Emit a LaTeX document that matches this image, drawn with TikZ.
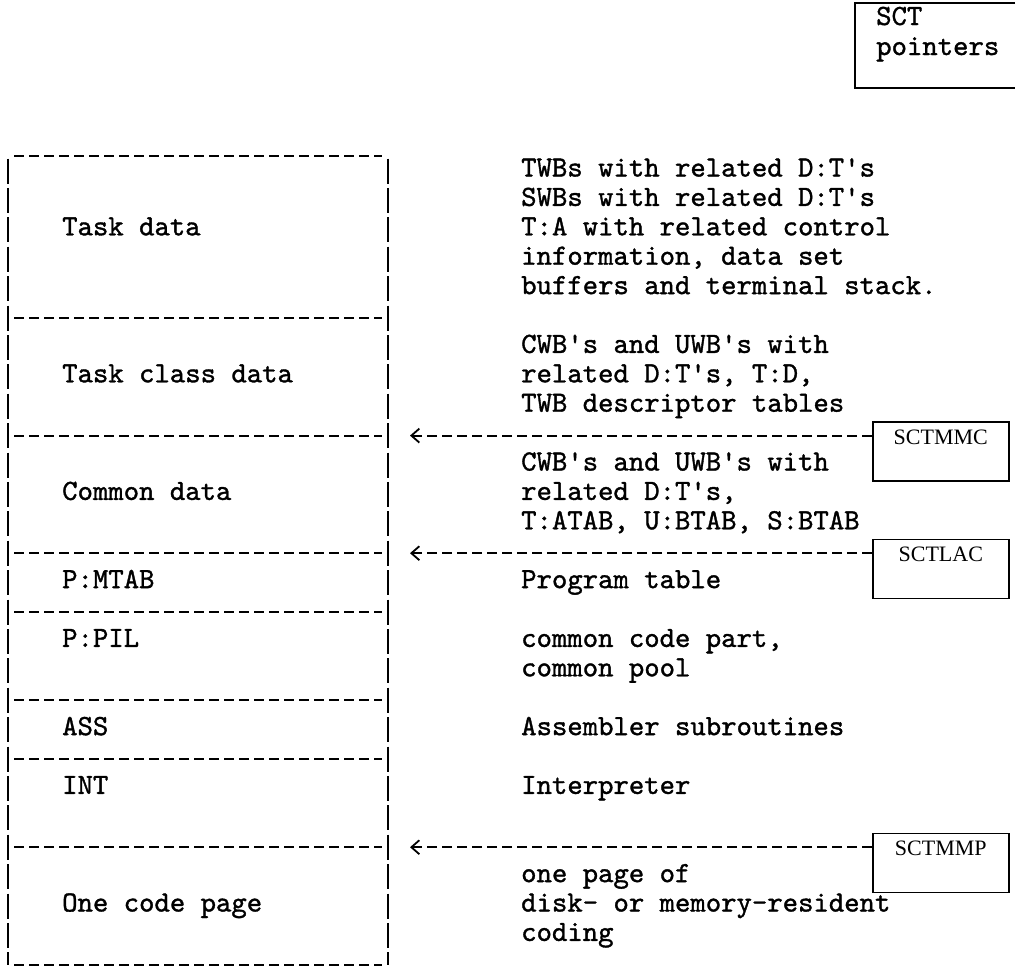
\documentclass[tikz,border=0pt]{standalone}
\usepackage{fontspec}
\newfontfamily\typefont{lmmono10-regular.otf}[FakeBold=1.2]
\newfontfamily\ptrfont{Liberation Serif}
\usetikzlibrary{arrows.meta}
\newcommand{\rowy}[1]{141.6+29.4*#1}

\begin{document}
\begin{tikzpicture}[
x=1pt, y=-1pt,
every node/.style={
    inner sep=0pt,
    font=\typefont\fontsize{29.3}{29.4}\selectfont,
    },
partname/.style={anchor=base west},
note/.style={anchor=base west},
typed/.style={line width=1.8pt, dash pattern=on 10pt off 5pt},
bar/.style={line width=2pt, dash pattern=on 25pt off 4.4pt},
ptrbox/.style={
    draw,
    line width=1.6pt,
    anchor=north west,
    minimum width=136pt,
    text height=22pt,
    text depth=36.8pt,
    font=\ptrfont\fontsize{22}{24}\selectfont,
    },
ptrarrow/.style={
    draw,
    typed,
    -{Straight Barb[length=8pt,width=14pt]},
    },
]
\useasboundingbox (0,0) rectangle (1019,969);

\draw[line width=2pt] (1015,3) -- (855,3) -- (855,88) -- (1015,88);
\node[note] (sct) at (876,25) {SCT};
\node[note] (ptrs) at (876,55) {pointers};

\draw[bar] (8,158.5) -- (8,965);
\draw[bar] (388,158.5) -- (388,965);
\draw[typed] (14,156) -- (382,156);
\draw[typed] (14,965) -- (382,965);
\foreach \r in {6,10,14,16,19,21,24}
    \draw[typed] (14,{\rowy{\r}}) -- (382,{\rowy{\r}});

\node[partname] (task)   at (62,{\rowy{3}+5.5})  {Task data};
\node[partname] (class)  at (62,{\rowy{8}+5.5})  {Task class data};
\node[partname] (common) at (62,{\rowy{12}+5.5}) {Common data};
\node[partname] (pmtab)  at (62,{\rowy{15}+5.5}) {P:MTAB};
\node[partname] (ppil)   at (62,{\rowy{17}+5.5}) {P:PIL};
\node[partname] (ass)    at (62,{\rowy{20}+5.5}) {ASS};
\node[partname] (int)    at (62,{\rowy{22}+5.5}) {INT};
\node[partname] (page)   at (62,{\rowy{26}+5.5}) {One code page};

\node[note] (t1) at (521,{\rowy{1}+5.5})  {TWBs with related D:T's};
\node[note] (t2) at (521,{\rowy{2}+5.5})  {SWBs with related D:T's};
\node[note] (t3) at (521,{\rowy{3}+5.5})  {T:A with related control};
\node[note] (t4) at (521,{\rowy{4}+5.5})  {information, data set};
\node[note] (t5) at (521,{\rowy{5}+5.5})  {buffers and terminal stack.};
\node[note] (c1) at (521,{\rowy{7}+5.5})  {CWB's and UWB's with};
\node[note] (c2) at (521,{\rowy{8}+5.5})  {related D:T's, T:D,};
\node[note] (c3) at (521,{\rowy{9}+5.5})  {TWB descriptor tables};
\node[note] (m1) at (521,{\rowy{11}+5.5}) {CWB's and UWB's with};
\node[note] (m2) at (521,{\rowy{12}+5.5}) {related D:T's,};
\node[note] (m3) at (521,{\rowy{13}+5.5}) {T:ATAB, U:BTAB, S:BTAB};
\node[note] (p1) at (521,{\rowy{15}+5.5}) {Program table};
\node[note] (l1) at (521,{\rowy{17}+5.5}) {common code part,};
\node[note] (l2) at (521,{\rowy{18}+5.5}) {common pool};
\node[note] (a1) at (521,{\rowy{20}+5.5}) {Assembler subroutines};
\node[note] (i1) at (521,{\rowy{22}+5.5}) {Interpreter};
\node[note] (o1) at (521,{\rowy{25}+5.5}) {one page of};
\node[note] (o2) at (521,{\rowy{26}+5.5}) {disk- or memory-resident};
\node[note] (o3) at (521,{\rowy{27}+5.5}) {coding};

\node[ptrbox] (mmc) at (872,{\rowy{10}-14.4}) {SCTMMC};
\node[ptrbox] (lac) at (872,{\rowy{14}-14.4}) {SCTLAC};
\node[ptrbox] (mmp) at (872,{\rowy{24}-14.4}) {SCTMMP};

\coordinate (in10) at (410,{\rowy{10}});
\coordinate (in14) at (410,{\rowy{14}});
\coordinate (in24) at (410,{\rowy{24}});

\path[ptrarrow] ([yshift=-14.4pt]mmc.north west) -- (in10);
\path[ptrarrow] ([yshift=-14.4pt]lac.north west) -- (in14);
\path[ptrarrow] ([yshift=-14.4pt]mmp.north west) -- (in24);
\end{tikzpicture}
\end{document}
